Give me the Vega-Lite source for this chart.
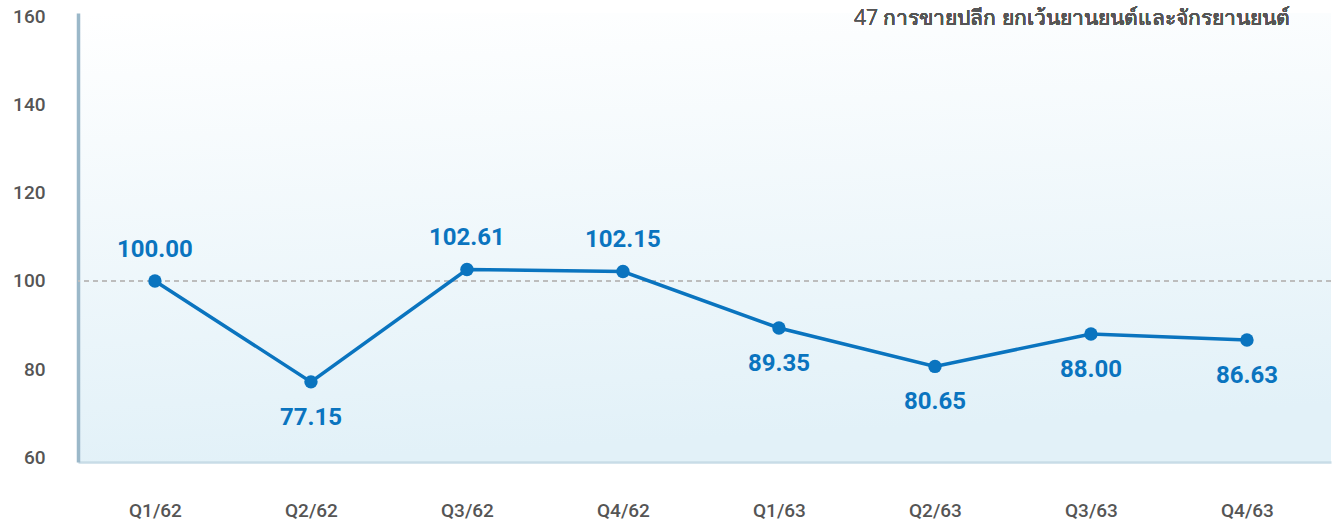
{
  "$schema": "https://vega.github.io/schema/vega-lite/v6.json",
  "autosize": "none",
  "width": 1253,
  "height": 449,
  "padding": {"left": 78, "top": 13, "right": 4, "bottom": 64},
  "background": "#ffffff",
  "config": {
    "view": {
      "stroke": null,
      "fill": {"gradient": "linear", "x1": 0, "y1": 0, "x2": 0.15, "y2": 1, "stops": [{"offset": 0, "color": "#ffffff"}, {"offset": 1, "color": "#e2f1f8"}]}
    }
  },
  "data": {
    "values": [
      {"q": "Q1/62", "v": 100.00, "pos": "above"},
      {"q": "Q2/62", "v": 77.15, "pos": "below"},
      {"q": "Q3/62", "v": 102.61, "pos": "above"},
      {"q": "Q4/62", "v": 102.15, "pos": "above"},
      {"q": "Q1/63", "v": 89.35, "pos": "below"},
      {"q": "Q2/63", "v": 80.65, "pos": "below"},
      {"q": "Q3/63", "v": 88.00, "pos": "below"},
      {"q": "Q4/63", "v": 86.63, "pos": "below"}
    ]
  },
  "layer": [
    {
      "mark": {"type": "rule", "color": "#bdbdbd", "strokeWidth": 1.5, "strokeDash": [5, 4]},
      "encoding": {"y": {"datum": 100, "type": "quantitative", "scale": {"domain": [59, 160.7], "nice": false, "zero": false}}}
    },
    {
      "mark": {"type": "line", "color": "#0a74bf", "strokeWidth": 3.5},
      "encoding": {
        "x": {"field": "q", "type": "ordinal", "sort": null,
          "scale": {"type": "point", "padding": 0.516, "align": 0.478},
          "axis": {"title": null, "labelAngle": 0, "ticks": false, "domainColor": "#c8dce7", "domainWidth": 2.5, "labelPadding": 39, "labelFontSize": 19, "labelFont": "Roboto", "labelFontWeight": 500, "labelColor": "#555555"}},
        "y": {"field": "v", "type": "quantitative",
          "scale": {"domain": [59, 160.7], "nice": false, "zero": false},
          "axis": {"title": null, "values": [60, 80, 100, 120, 140, 160], "grid": false, "ticks": false, "domainColor": "#9bb8c9", "domainWidth": 3.5, "labelPadding": 33, "labelFontSize": 19, "labelFont": "Roboto", "labelFontWeight": 500, "labelColor": "#555555"}}
      }
    },
    {
      "mark": {"type": "point", "filled": true, "color": "#0a74bf", "size": 180, "opacity": 1},
      "encoding": {
        "x": {"field": "q", "type": "ordinal", "sort": null},
        "y": {"field": "v", "type": "quantitative"}
      }
    },
    {
      "transform": [{"filter": "datum.pos === 'above'"}],
      "mark": {"type": "text", "color": "#0a74bf", "font": "Roboto", "fontWeight": "bold", "fontSize": 24, "dy": -31, "baseline": "middle"},
      "encoding": {
        "x": {"field": "q", "type": "ordinal", "sort": null},
        "y": {"field": "v", "type": "quantitative"},
        "text": {"field": "v", "type": "quantitative", "format": ".2f"}
      }
    },
    {
      "transform": [{"filter": "datum.pos === 'below'"}],
      "mark": {"type": "text", "color": "#0a74bf", "font": "Roboto", "fontWeight": "bold", "fontSize": 24, "dy": 36, "baseline": "middle"},
      "encoding": {
        "x": {"field": "q", "type": "ordinal", "sort": null},
        "y": {"field": "v", "type": "quantitative"},
        "text": {"field": "v", "type": "quantitative", "format": ".2f"}
      }
    },
    {
      "mark": {"type": "text", "align": "right", "baseline": "middle", "dx": 43, "dy": 3, "fontSize": 21, "font": "Noto Sans", "fontWeight": 300, "color": "#555555"},
      "encoding": {
        "x": {"datum": "Q4/63", "type": "ordinal"},
        "y": {"datum": 160, "type": "quantitative"},
        "text": {"value": "47 การขายปลีก ยกเว้นยานยนต์และจักรยานยนต์"}
      }
    }
  ]
}
